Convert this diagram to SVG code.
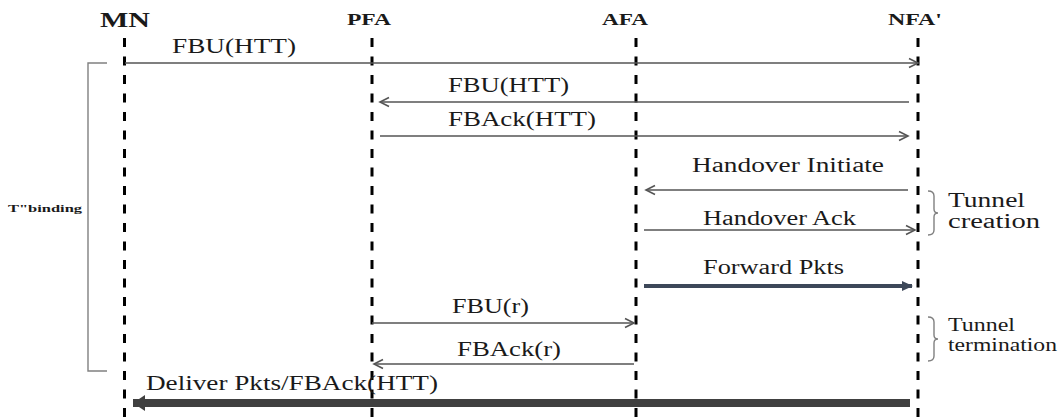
<svg xmlns="http://www.w3.org/2000/svg" width="1063" height="419" viewBox="0 0 1063 419" font-family="'Liberation Serif', 'DejaVu Serif', serif">
<style>
text{font-family:'Liberation Serif','DejaVu Serif',serif;fill:#1a1a1a}
.hd{font-weight:bold;font-size:16px}
.lb{font-size:20px}
.sm{font-size:18px}
.life{stroke:#000;stroke-width:3;stroke-dasharray:9 9.5;fill:none}
.msg{stroke:#555;stroke-width:1.5;fill:none}
.brk{stroke:#808080;stroke-width:1.4;fill:none}
</style>
<defs>
<marker id="open" markerWidth="12" markerHeight="12" refX="10" refY="6" orient="auto" markerUnits="userSpaceOnUse">
<path d="M1,1.5 L10,6 L1,10.5" fill="none" stroke="#555" stroke-width="1.6"/>
</marker>
<marker id="solidBlue" markerWidth="12" markerHeight="12" refX="10" refY="6" orient="auto" markerUnits="userSpaceOnUse">
<path d="M0,1 L11,6 L0,11 Z" fill="#3d4859"/>
</marker>
<marker id="solidBig" markerWidth="14" markerHeight="18" refX="12" refY="9" orient="auto" markerUnits="userSpaceOnUse">
<path d="M0,1 L12,9 L0,17 Z" fill="#404040"/>
</marker>
</defs>

<g id="MN">
<text class="hd" x="100" y="27" style="font-size:21px" textLength="50" lengthAdjust="spacingAndGlyphs">MN</text>
<line class="life" x1="124.5" y1="38" x2="124.5" y2="419"/>
</g>
<g id="PFA">
<text class="hd" x="347" y="25" textLength="44" lengthAdjust="spacingAndGlyphs">PFA</text>
<line class="life" x1="372" y1="38" x2="372" y2="419"/>
</g>
<g id="AFA">
<text class="hd" x="602" y="25" textLength="46" lengthAdjust="spacingAndGlyphs">AFA</text>
<line class="life" x1="636" y1="38" x2="636" y2="419"/>
</g>
<g id="NFA">
<text class="hd" x="888" y="25" textLength="54" lengthAdjust="spacingAndGlyphs">NFA'</text>
<line class="life" x1="918" y1="38" x2="918" y2="419"/>
</g>

<g id="binding">
<polyline class="brk" points="107,63 88,63 88,371 107,371"/>
<text x="8" y="212" style="font-size:11px;font-weight:bold" textLength="74" lengthAdjust="spacingAndGlyphs">T"binding</text>
</g>

<g id="tunnel-creation">
<path class="brk" d="M928,191 Q934,191 934,196 L934,209 Q934,213 938,213 Q934,213 934,217 L934,230 Q934,235 928,235"/>
<text class="lb" x="948" y="207" textLength="77" lengthAdjust="spacingAndGlyphs">Tunnel</text>
<text class="lb" x="948" y="228" textLength="92" lengthAdjust="spacingAndGlyphs">creation</text>
</g>

<g id="tunnel-termination">
<path class="brk" d="M928,317 Q934,317 934,322 L934,335 Q934,339 938,339 Q934,339 934,343 L934,356 Q934,361 928,361"/>
<text class="sm" x="948" y="331" textLength="67" lengthAdjust="spacingAndGlyphs">Tunnel</text>
<text class="sm" x="948" y="351" textLength="109" lengthAdjust="spacingAndGlyphs">termination</text>
</g>

<g id="connectors">
<line class="msg" x1="125" y1="63" x2="918" y2="63" marker-end="url(#open)"/>
<text class="lb" x="172" y="53" textLength="124" lengthAdjust="spacingAndGlyphs">FBU(HTT)</text>

<line class="msg" x1="909" y1="102" x2="380" y2="102" marker-end="url(#open)"/>
<text class="lb" x="448" y="92" textLength="121" lengthAdjust="spacingAndGlyphs">FBU(HTT)</text>

<line class="msg" x1="380" y1="136" x2="908" y2="136" marker-end="url(#open)"/>
<text class="lb" x="448" y="126" textLength="148" lengthAdjust="spacingAndGlyphs">FBAck(HTT)</text>

<line class="msg" x1="908" y1="190" x2="646" y2="190" marker-end="url(#open)"/>
<text class="lb" x="692" y="172" textLength="192" lengthAdjust="spacingAndGlyphs">Handover Initiate</text>

<line class="msg" x1="644" y1="230" x2="915" y2="230" marker-end="url(#open)"/>
<text class="lb" x="703" y="225" textLength="153" lengthAdjust="spacingAndGlyphs">Handover Ack</text>

<line x1="644" y1="286" x2="912" y2="286" stroke="#3d4859" stroke-width="4" marker-end="url(#solidBlue)"/>
<text class="lb" x="703" y="274" textLength="141" lengthAdjust="spacingAndGlyphs">Forward Pkts</text>

<line class="msg" x1="372" y1="323" x2="634" y2="323" marker-end="url(#open)"/>
<text class="lb" x="452" y="313" textLength="77" lengthAdjust="spacingAndGlyphs">FBU(r)</text>

<line class="msg" x1="634" y1="364" x2="374" y2="364" marker-end="url(#open)"/>
<text class="lb" x="457" y="356" textLength="104" lengthAdjust="spacingAndGlyphs">FBAck(r)</text>

<line x1="910" y1="403" x2="133" y2="403" stroke="#404040" stroke-width="8" marker-end="url(#solidBig)"/>
<text class="lb" x="146" y="390" textLength="292" lengthAdjust="spacingAndGlyphs">Deliver Pkts/FBAck(HTT)</text>
</g>
</svg>
